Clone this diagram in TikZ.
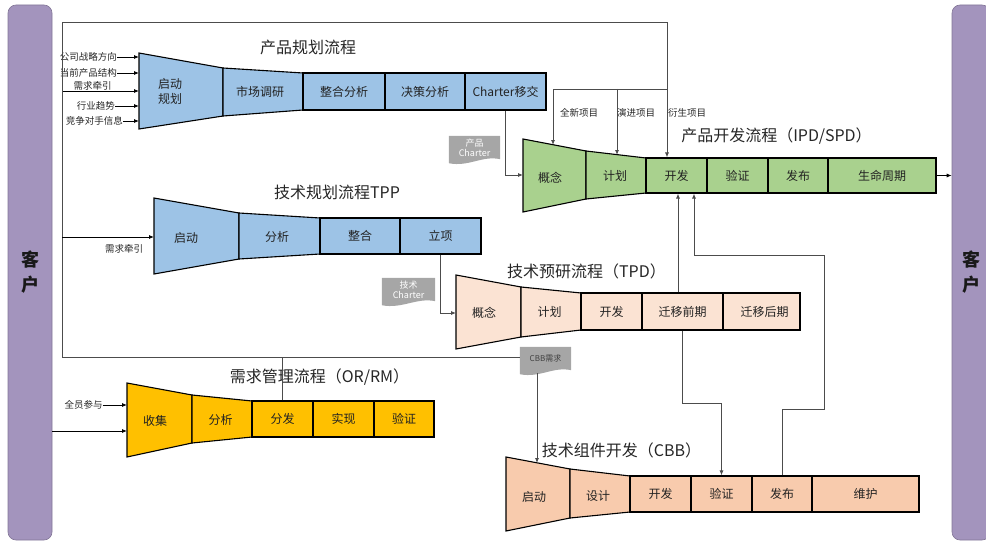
\documentclass[tikz,border=0pt]{standalone}
\usepackage{fontspec}
\setmainfont{Noto Sans CJK SC}
\usetikzlibrary{arrows.meta,calc}
\definecolor{pblue}{HTML}{9DC3E6}
\definecolor{pgreen}{HTML}{A9D18E}
\definecolor{ppeach}{HTML}{FBE3D3}
\definecolor{pcbb}{HTML}{F8CBAD}
\definecolor{pgold}{HTML}{FFC000}
\definecolor{ppurple}{HTML}{A394BD}
\definecolor{pgray}{HTML}{A6A6A6}
\definecolor{ink}{HTML}{222222}
\tikzset{
  seg/.style={draw=black, line width=1.1pt, line join=miter},
  box/.style={draw=black, line width=1.1pt, inner sep=0pt, text=ink, font=\fontsize{12}{14}\selectfont},
  lbl/.style={inner sep=0pt, align=center, text=ink, font=\fontsize{12}{15}\selectfont},
  ttl/.style={inner sep=0pt, text=black!85, font=\fontsize{16}{18}\selectfont},
  small/.style={inner sep=0pt, text=black!85, font=\fontsize{9.5}{11}\selectfont},
  conn/.style={draw=black!70, line width=0.8pt},
  arr/.style={draw=black!70, line width=0.8pt, -{Latex[length=5pt,width=4pt]}},
  inarr/.style={draw=black, line width=0.8pt, -{Latex[length=5pt,width=4pt]}},
  tagsz/.style={inner sep=0pt, minimum height=26pt},
  tagtxt/.style={inner sep=0pt, align=center, font=\fontsize{9}{10.5}\selectfont},
  bar/.style={draw=ppurple!80!black, line width=0.6pt, fill=ppurple, rounded corners=8pt, inner sep=0pt},
  bartxt/.style={inner sep=0pt, align=center, text=black!90, font=\fontsize{18}{25}\selectfont\bfseries},
}
\newcommand{\funseg}[7]{\filldraw[seg,fill=#1] (#2,#4) -- (#3,#5) -- (#3,#7) -- (#2,#6) -- cycle;}
\newcommand{\docshape}[1]{\fill[pgray] (#1.north west) -- (#1.north east) -- ($(#1.south east)+(0,-3)$) .. controls ($(#1.south east)+(-18,-7)$) and ($(#1.south west)+(20,5)$) .. ($(#1.south west)+(0,1)$) -- cycle;}
\begin{document}
\begin{tikzpicture}[x=1pt,y=-1pt]
\useasboundingbox (0,0) rectangle (986,543);

% customer bars
\node[bar, minimum width=44pt, minimum height=535pt] (barL) at (30,272.5) {};
\node[bartxt] (barLt) at (30,272.5) {客\\户};
\node[bar, minimum width=38pt, minimum height=535pt] (barR) at (971,272.5) {};
\node[bartxt] (barRt) at (971,272.5) {客\\户};

% ---------- Product planning ----------
\node[ttl] (ttlpp) at (308,47) {产品规划流程};
\funseg{pblue}{139}{223}{53}{68}{129}{116}
\funseg{pblue}{223}{303}{68}{73}{116}{110}
\node[lbl] (pp1) at (170,91) {启动\\规划};
\node[lbl] (pp2) at (260,91.5) {市场调研};
\node[box, fill=pblue, minimum width=82pt, minimum height=37pt] (pp3) at (344,91.5) {整合分析};
\node[box, fill=pblue, minimum width=80pt, minimum height=37pt] (pp4) at (425,91.5) {决策分析};
\node[box, fill=pblue, minimum width=81pt, minimum height=37pt] (pp5) at (505.5,91.5) {Charter移交};

% inputs
\node[small, anchor=east] (in1) at (117,57) {公司战略方向};
\node[small, anchor=east] (in2) at (117,73) {当前产品结构};
\node[small] (in3) at (92.5,86) {需求牵引};
\node[small, anchor=east] (in4) at (115,106) {行业趋势};
\node[small, anchor=east] (in5) at (123,121) {竞争对手信息};
\coordinate (pp1a) at (139,57);
\coordinate (pp1b) at (139,73);
\coordinate (pp1c) at (139,91);
\coordinate (pp1d) at (139,106);
\coordinate (pp1e) at (139,121);

% ---------- IPD ----------
\node[ttl] (ttlipd) at (776.5,136) {产品开发流程（IPD/SPD）};
\funseg{pgreen}{523}{586}{139}{151}{212}{199}
\funseg{pgreen}{586}{646}{151}{158}{199}{193}
\node[lbl] (ipd1) at (550,178) {概念};
\node[lbl] (ipd2) at (615,176) {计划};
\node[box, fill=pgreen, minimum width=61pt, minimum height=35pt] (ipd3) at (676.5,175.5) {开发};
\node[box, fill=pgreen, minimum width=61pt, minimum height=35pt] (ipd4) at (737.5,175.5) {验证};
\node[box, fill=pgreen, minimum width=60pt, minimum height=35pt] (ipd5) at (798,175.5) {发布};
\node[box, fill=pgreen, minimum width=108pt, minimum height=35pt] (ipd6) at (882,175.5) {生命周期};
\node[small] (lb1) at (579,113) {全新项目};
\node[small] (lb2) at (636,113) {演进项目};
\node[small] (lb3) at (687,113) {衍生项目};

% ---------- TPP ----------
\node[ttl] (ttltpp) at (337,192) {技术规划流程TPP};
\funseg{pblue}{154}{239}{198}{213}{274}{259}
\funseg{pblue}{239}{320}{213}{218}{259}{254}
\node[lbl] (tpp1) at (186,238) {启动};
\node[lbl] (tpp2) at (277,237) {分析};
\node[box, fill=pblue, minimum width=80pt, minimum height=36pt] (tpp3) at (360,236) {整合};
\node[box, fill=pblue, minimum width=81pt, minimum height=36pt] (tpp4) at (440.5,236) {立项};
\node[small] (tppin) at (124,249) {需求牵引};

% ---------- TPD ----------
\node[ttl] (ttltpd) at (586.5,271) {技术预研流程（TPD）};
\funseg{ppeach}{456}{521}{275}{287}{349}{337}
\funseg{ppeach}{521}{581}{287}{293}{337}{330}
\node[lbl] (tpd1) at (484,313) {概念};
\node[lbl] (tpd2) at (549.5,312) {计划};
\node[box, fill=ppeach, minimum width=61pt, minimum height=37pt] (tpd3) at (611.5,311.5) {开发};
\node[box, fill=ppeach, minimum width=81pt, minimum height=37pt] (tpd4) at (682.5,311.5) {迁移前期};
\node[box, fill=ppeach, minimum width=77pt, minimum height=37pt] (tpd5) at (761.5,311.5) {\hspace*{6pt}迁移后期};

% ---------- OR/RM ----------
\node[ttl] (ttlor) at (319.5,377) {需求管理流程（OR/RM）};
\funseg{pgold}{127}{192}{383}{395}{457}{443}
\funseg{pgold}{192}{252}{395}{401}{443}{437}
\node[lbl] (or1) at (155,421) {收集};
\node[lbl] (or2) at (220.5,420) {分析};
\node[box, fill=pgold, minimum width=61pt, minimum height=36pt] (or3) at (282.5,419) {分发};
\node[box, fill=pgold, minimum width=61pt, minimum height=36pt] (or4) at (343.5,419) {实现};
\node[box, fill=pgold, minimum width=60pt, minimum height=36pt] (or5) at (404,419) {验证};
\node[small] (orin) at (83.5,405) {全员参与};

% ---------- CBB ----------
\node[ttl] (ttlcbb) at (621.5,450) {技术组件开发（CBB）};
\funseg{pcbb}{506}{570}{457}{469}{531}{518}
\funseg{pcbb}{570}{630}{469}{476}{518}{512}
\node[lbl] (cbb1) at (534,497) {启动};
\node[lbl] (cbb2) at (598,496) {设计};
\node[box, fill=pcbb, minimum width=61pt, minimum height=36pt] (cbb3) at (660.5,494) {开发};
\node[box, fill=pcbb, minimum width=61pt, minimum height=36pt] (cbb4) at (721.5,494) {验证};
\node[box, fill=pcbb, minimum width=60pt, minimum height=36pt] (cbb5) at (782,494) {发布};
\node[box, fill=pcbb, minimum width=107pt, minimum height=36pt] (cbb6) at (865.5,494) {维护};

% ---------- tags ----------
\node[tagsz, minimum width=51pt] (ptag) at (474.5,149) {};
\docshape{ptag}
\node[tagtxt, text=white] (ptagt) at ($(ptag.center)+(0,-1)$) {产品\\Charter};
\node[tagsz, minimum width=53pt] (ttag) at (408.5,291) {};
\docshape{ttag}
\node[tagtxt, text=white] (ttagt) at ($(ttag.center)+(0,-1)$) {技术\\Charter};
\node[tagsz, minimum width=51pt] (cbbtag) at (545.5,360) {};
\docshape{cbbtag}
\node[tagtxt, text=black!75, font=\fontsize{8}{10}\selectfont] (cbbtagt) at ($(cbbtag.center)+(0,-2)$) {CBB需求};

% ---------- coordinates ----------
\coordinate (fTL) at (62,22);
\coordinate (fBL) at (62,357);
\coordinate (fTR) at (667,22);
\coordinate (fN1) at (62,91);
\coordinate (fN2) at (62,237);
\coordinate (tpp1in) at (154,237);
\coordinate (jR) at (667,89);
\coordinate (j1) at (553,89);
\coordinate (j2) at (617,89);
\coordinate (ipd1top) at (553,145);
\coordinate (ipd2top) at (617,155);
\coordinate (ipd1in) at (523,175);
\coordinate (tpd1in) at (456,313);
\coordinate (or1a) at (127,405);
\coordinate (or1b) at (127,431);
\coordinate (cbb1top) at (537,463);
\coordinate (cbbsrc) at (537,373);
\coordinate (k1) at (721.5,403);
\coordinate (k2) at (824,409);
\coordinate (k3) at (694,255);
\coordinate (m1) at ($(tpd4.north)+(-4.5,0)$);

% ---------- connectors ----------
\draw[inarr] (in1.east) -- (pp1a);
\draw[inarr] (in2.east) -- (pp1b);
\draw[inarr] (fN1) -- (pp1c);
\draw[inarr] (in4.east) -- (pp1d);
\draw[inarr] (in5.east) -- (pp1e);

\draw[arr] (fBL) -- (fTL) -- (fTR) -- (fTR |- ipd3.north);
\draw[arr] (jR) -- (j1) -- (ipd1top);
\draw[arr] (j2) -- (ipd2top);
\draw[inarr] (fN2) -- (tpp1in);
\draw[conn] (fBL) -- (fBL -| cbbtag.west);
\draw[conn] (or3.north) -- (or3.north |- fBL);
\draw[arr] (cbbsrc) -- (cbb1top);

\draw[arr] (pp5.south) |- (ipd1in);
\draw[arr] (tpp4.south) |- (tpd1in);
\draw[arr] (tpd4.south) |- (k1) -- (cbb4.north);
\draw[arr] (m1) -- (m1 |- ipd3.south);
\draw[arr] (cbb5.north) |- (k2) |- (k3) -- (k3 |- ipd3.south);

\draw[inarr] (orin.east) -- (or1a);
\draw[inarr] (barL.east |- or1b) -- (or1b);
\draw[inarr] (ipd6.east) -- (ipd6.east -| barR.west);
\end{tikzpicture}
\end{document}
